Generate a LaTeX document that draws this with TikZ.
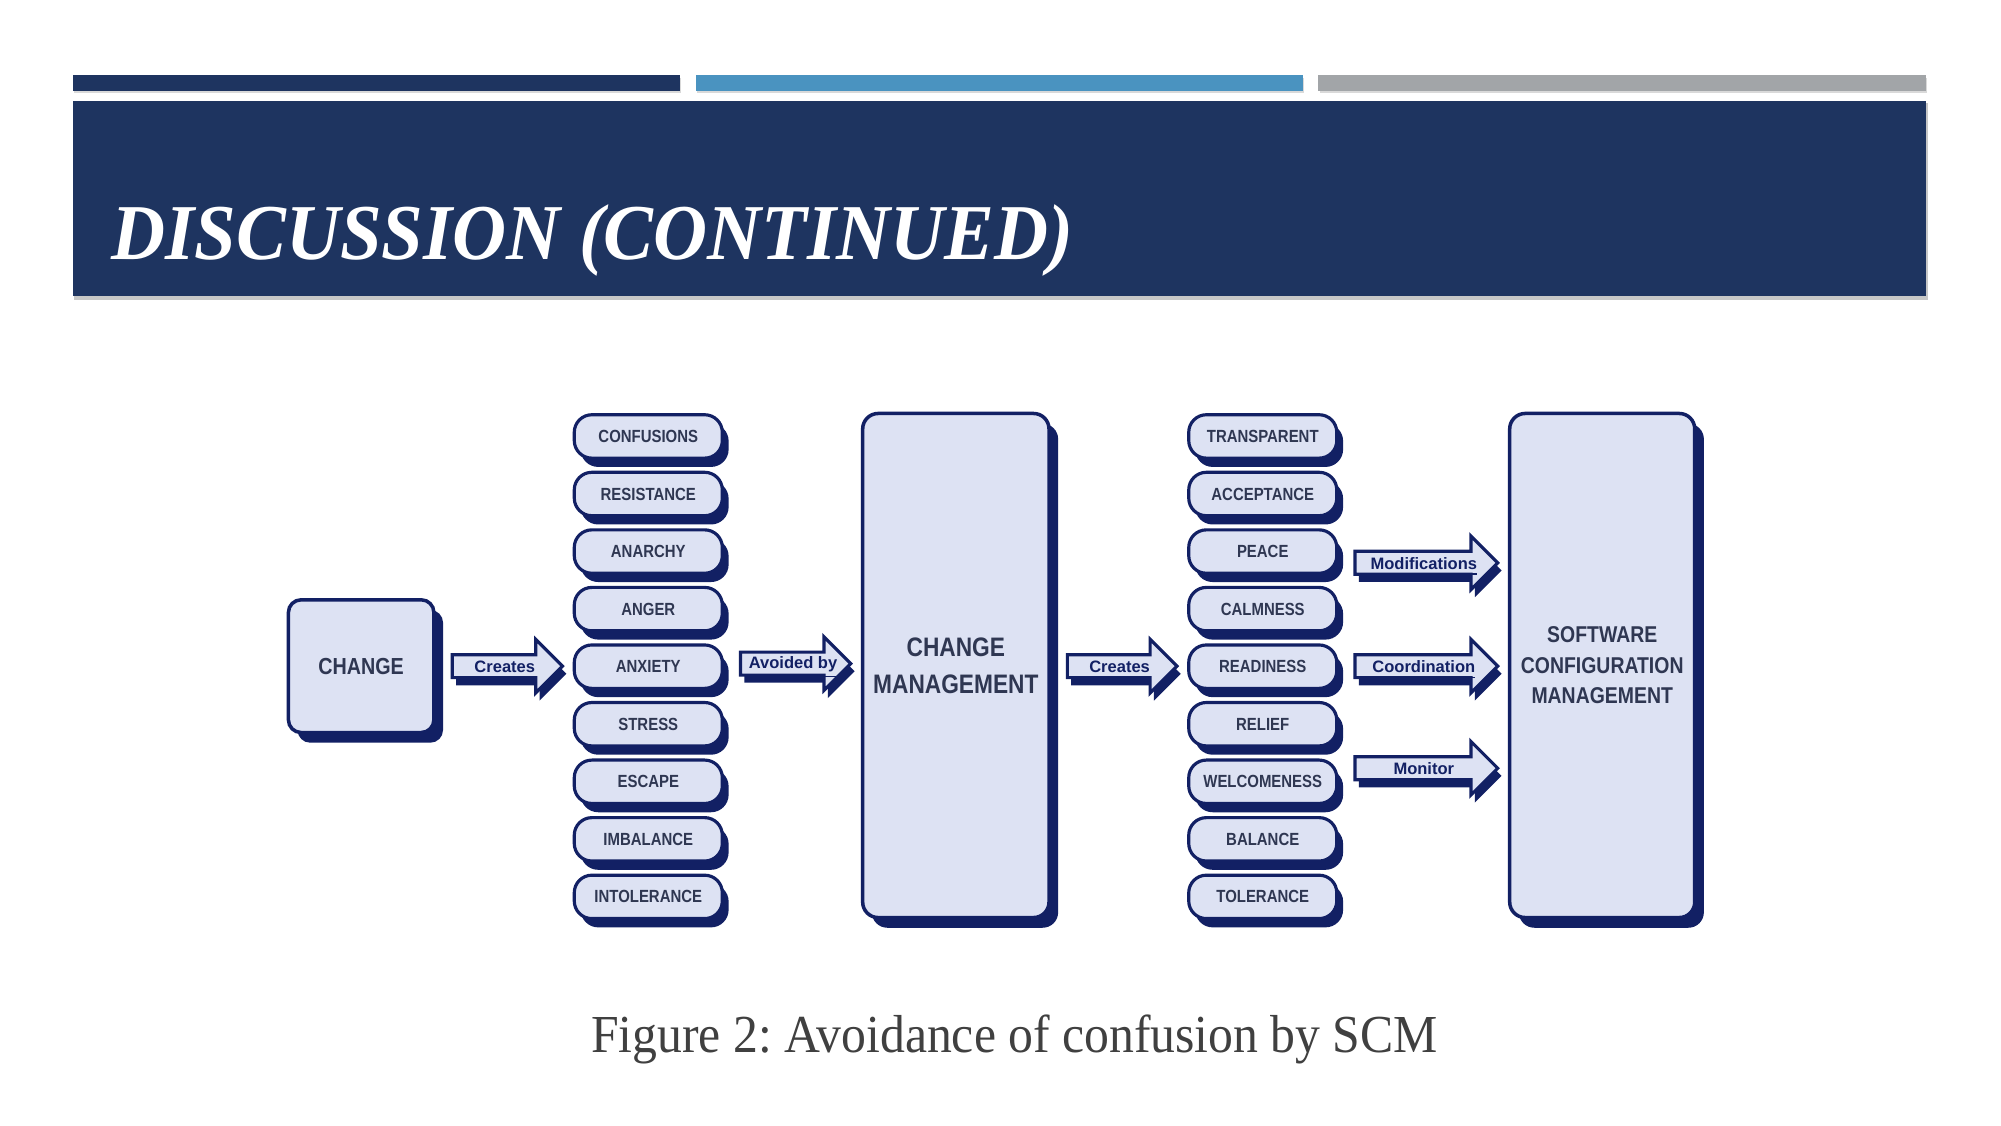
\documentclass[tikz,border=0pt]{standalone}
\usepackage{fontspec}
\setmainfont{Liberation Serif}
\newfontfamily\arialf{Liberation Sans}
\usepackage{graphicx}
\usetikzlibrary{calc,shadows}
\frenchspacing
\definecolor{band}{HTML}{1E3460}
\definecolor{bartwo}{HTML}{4A93C0}
\definecolor{barthree}{HTML}{A2A5A8}
\definecolor{dnavy}{HTML}{122064}
\definecolor{lfill}{HTML}{DDE2F3}
\definecolor{txt}{HTML}{2F3752}
\definecolor{capgray}{HTML}{404040}
\def\u{0.01276cm}
\newcommand\cond[1]{\scalebox{0.85}[1]{#1}}
\tikzset{
  pill/.style={draw=dnavy, fill=lfill, line width=0.9pt, rounded corners=5pt,
    minimum width=116*\u, minimum height=34*\u, inner sep=0pt, text=txt,
    font=\arialf\bfseries\fontsize{5}{6}\selectfont,
    general shadow={fill=dnavy, shadow xshift=1.8pt, shadow yshift=-2.5pt}},
  bigbox/.style={draw=dnavy, fill=lfill, line width=1pt, rounded corners=4.4pt,
    inner sep=0pt, text=txt, align=center,
    general shadow={fill=dnavy, shadow xshift=2.6pt, shadow yshift=-2.9pt}},
  arrowline/.style={draw=dnavy, fill=lfill, line width=0.9pt, line join=miter},
  arrowshadow/.style={fill=dnavy},
  arrowlab/.style={font=\arialf\bfseries\fontsize{4.7}{5}\selectfont, text=dnavy, inner sep=0pt},
}
\newcommand\blockarrow[4]{%
  \coordinate (ylev) at (0,#3);
  \coordinate (bs) at ($(#1.east |- ylev)+(13,0)$);
  \coordinate (be) at ($(#2.west |- ylev)+(-8,0)$);
  \fill[arrowshadow] ($(bs)+(3,-3)$) -- ($(be)+(-18,-3)$) -- ($(be)+(-18,-15)$) -- ($(be)+(3,6)$)
     -- ($(be)+(-18,27)$) -- ($(be)+(-18,15)$) -- ($(bs)+(3,15)$) -- cycle;
  \draw[arrowline] ($(bs)+(0,-9)$) -- ($(be)+(-21,-9)$) -- ($(be)+(-21,-21)$) -- (be)
     -- ($(be)+(-21,21)$) -- ($(be)+(-21,9)$) -- ($(bs)+(0,9)$) -- cycle;
  \coordinate (bm) at ($(bs)!0.5!(be)$);
  \node[arrowlab] at ($(bm)+(-2,3)$) {\underline{#4}};
}
\begin{document}
\begin{tikzpicture}[x=0.01276cm, y=-0.01276cm]
\useasboundingbox (0,0) rectangle (1568,882);
\fill[white] (0,0) rectangle (1568,882);
% header
\fill[black!15] (58,61) rectangle (534,73);
\fill[black!15] (546,61) rectangle (1022,73);
\fill[black!15] (1034,61) rectangle (1510,73);
\fill[band] (57,59) rectangle (533,71);
\fill[bartwo] (545,59) rectangle (1021,71);
\fill[barthree] (1033,59) rectangle (1509,71);
\fill[black!22] (58,81) rectangle (1511,235);
\fill[band] (57,79) rectangle (1509,232);
\node[anchor=base west, text=white, inner sep=0pt,
  font=\bfseries\itshape\fontsize{22.5}{27}\selectfont] (title) at (87,203)
  {\scalebox{0.945}[1]{DISCUSSION (CONTINUED)}};
% diagram
\node[bigbox, rounded corners=3.6pt, minimum width=114*\u, minimum height=104*\u,
  font=\arialf\bfseries\fontsize{6.6}{8}\selectfont] (change) at (283,522) {\cond{CHANGE}};
\foreach \t [count=\i from 0] in {CONFUSIONS,RESISTANCE,ANARCHY,ANGER,ANXIETY,STRESS,ESCAPE,IMBALANCE,INTOLERANCE}
  \node[pill] (L\i) at (508,{342+45.1*\i}) {\cond{\t}};
\node[bigbox, minimum width=146*\u, minimum height=395*\u,
  font=\arialf\bfseries\fontsize{7.6}{10.5}\selectfont] (cm) at (749,521.5)
  {\cond{CHANGE}\\\cond{MANAGEMENT}};
\foreach \t [count=\i from 0] in {TRANSPARENT,ACCEPTANCE,PEACE,CALMNESS,READINESS,RELIEF,WELCOMENESS,BALANCE,TOLERANCE}
  \node[pill] (R\i) at (989.5,{342+45.1*\i}) {\cond{\t}};
\node[bigbox, minimum width=145*\u, minimum height=395*\u,
  font=\arialf\bfseries\fontsize{6.5}{8.7}\selectfont] (scm) at (1255.5,521.5)
  {\cond{SOFTWARE}\\\cond{CONFIGURATION}\\\cond{MANAGEMENT}};
% arrows
\blockarrow{change}{L4}{522}{Creates}
\blockarrow{L4}{cm}{520}{Avoided by}
\blockarrow{cm}{R4}{522}{Creates}
\blockarrow{R2}{scm}{441}{Modifications}
\blockarrow{R4}{scm}{522}{Coordination}
\blockarrow{R6}{scm}{602}{Monitor}
% caption
\node[anchor=base, text=capgray, inner sep=0pt, font=\fontsize{15.2}{18}\selectfont] (cap) at (795,825)
  {\scalebox{0.93}[1]{Figure 2: Avoidance of confusion by SCM}};
\end{tikzpicture}
\end{document}
